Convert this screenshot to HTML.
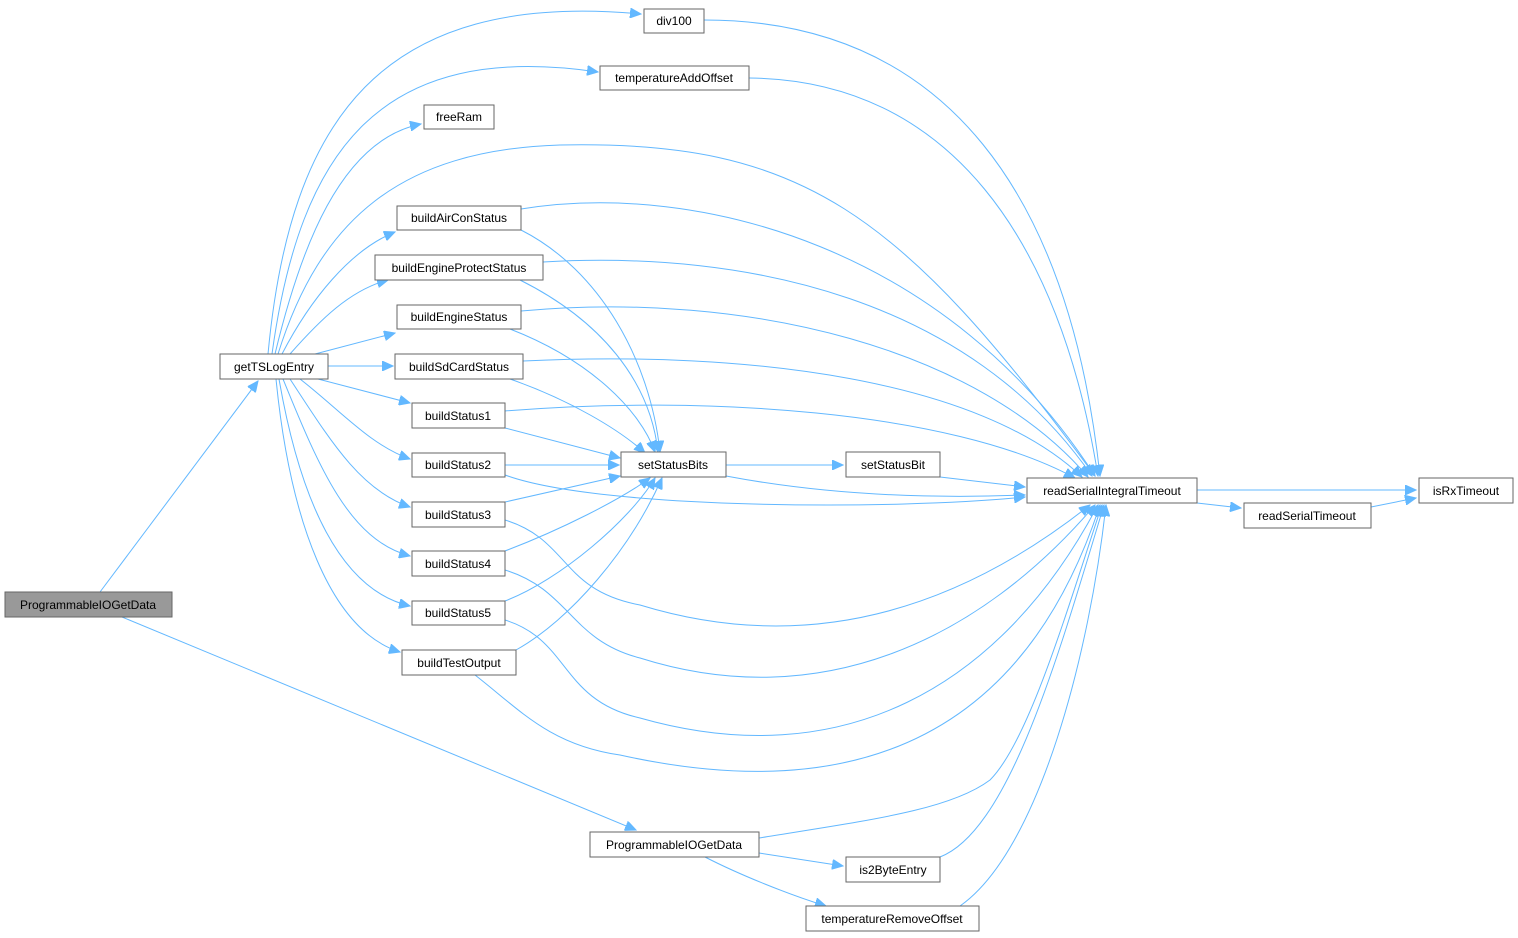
<!DOCTYPE html>
<html><head><meta charset="utf-8"><style>
body{margin:0;background:#fff;}
svg{display:block;}
text{font-family:"Liberation Sans",Arial,sans-serif;font-size:12px;fill:#000;text-anchor:middle;}
.n{fill:#fff;stroke:#666;stroke-width:1;}
.e{fill:none;stroke:#63b8ff;stroke-width:1;marker-end:url(#a);}
</style></head><body>
<svg width="1518" height="938" viewBox="0 0 1518 938">
<defs><marker id="a" markerUnits="userSpaceOnUse" markerWidth="12" markerHeight="10" refX="11" refY="5" orient="auto"><path d="M0,0 L11,5 L0,10 Z" fill="#63b8ff" stroke="#63b8ff"/></marker></defs>
<g>
<path class="e" d="M100,592 L258,381"/>
<path class="e" d="M122,617 L636,830"/>
<path class="e" d="M268,354 C290,120 380,-10 641,14"/>
<path class="e" d="M272,354 C300,150 380,40 598,72"/>
<path class="e" d="M275,354 C300,250 340,140 421,124"/>
<path class="e" d="M278,354 C320,220 400,150 560,145 C800,140 900,210 1095,476"/>
<path class="e" d="M282,354 C310,300 350,250 395,232"/>
<path class="e" d="M290,354 C320,320 350,290 388,280"/>
<path class="e" d="M315,354 L395,333"/>
<path class="e" d="M328,366 L393,366"/>
<path class="e" d="M318,379 L410,403"/>
<path class="e" d="M300,379 C340,410 370,445 410,459"/>
<path class="e" d="M290,379 C330,440 360,490 410,507"/>
<path class="e" d="M283,379 C320,470 350,540 410,556"/>
<path class="e" d="M279,379 C300,500 340,590 410,606"/>
<path class="e" d="M276,379 C290,520 330,630 400,652"/>
<path class="e" d="M521,230 C600,270 650,360 660,452"/>
<path class="e" d="M520,280 C600,320 650,380 658,452"/>
<path class="e" d="M510,329 C590,360 640,410 655,452"/>
<path class="e" d="M510,379 C570,400 620,430 645,453"/>
<path class="e" d="M505,428 L620,458"/>
<path class="e" d="M505,465 L619,465"/>
<path class="e" d="M505,502 L620,476"/>
<path class="e" d="M505,551 C560,530 620,500 650,478"/>
<path class="e" d="M505,601 C560,580 630,520 655,478"/>
<path class="e" d="M516,650 C570,620 630,550 662,478"/>
<path class="e" d="M704,20 C950,20 1070,200 1100,476"/>
<path class="e" d="M749,78 C950,80 1060,240 1098,476"/>
<path class="e" d="M521,209 C700,180 950,250 1095,476"/>
<path class="e" d="M543,262 C750,250 970,300 1092,476"/>
<path class="e" d="M521,311 C750,290 980,350 1088,477"/>
<path class="e" d="M523,361 C750,350 980,380 1082,477"/>
<path class="e" d="M505,411 C700,395 950,410 1075,478"/>
<path class="e" d="M505,475 C600,510 900,510 1025,497"/>
<path class="e" d="M940,477 L1025,487"/>
<path class="e" d="M726,476 C800,490 900,500 1025,495"/>
<path class="e" d="M505,520 C570,540 560,590 640,605 C820,660 970,600 1090,505"/>
<path class="e" d="M505,570 C570,590 570,640 640,658 C820,715 980,640 1095,505"/>
<path class="e" d="M505,620 C570,640 560,700 640,718 C840,775 1000,690 1098,505"/>
<path class="e" d="M475,675 C520,710 550,745 620,755 C800,795 1010,780 1100,505"/>
<path class="e" d="M759,838 C870,820 950,810 990,780 C1030,740 1070,600 1102,505"/>
<path class="e" d="M940,857 C1010,830 1060,650 1104,505"/>
<path class="e" d="M960,906 C1040,850 1090,650 1106,505"/>
<path class="e" d="M726,465 L843,465"/>
<path class="e" d="M1197,490 L1416,490"/>
<path class="e" d="M1197,503 L1241,508"/>
<path class="e" d="M1371,507 L1416,498"/>
<path class="e" d="M759,853 L843,866"/>
<path class="e" d="M705,857 C740,875 790,895 826,906"/>
</g>
<rect x="5" y="592" width="167" height="25" fill="#999" stroke="#666"/><text x="88" y="609">ProgrammableIOGetData</text>
<rect class="n" x="220" y="354" width="108" height="25"/><text x="274" y="371">getTSLogEntry</text>
<rect class="n" x="644" y="9" width="60" height="24"/><text x="674" y="25">div100</text>
<rect class="n" x="600" y="66" width="149" height="24"/><text x="674" y="82">temperatureAddOffset</text>
<rect class="n" x="424" y="105" width="70" height="24"/><text x="459" y="121">freeRam</text>
<rect class="n" x="397" y="206" width="124" height="24"/><text x="459" y="222">buildAirConStatus</text>
<rect class="n" x="375" y="255" width="168" height="25"/><text x="459" y="272">buildEngineProtectStatus</text>
<rect class="n" x="397" y="305" width="124" height="24"/><text x="459" y="321">buildEngineStatus</text>
<rect class="n" x="395" y="354" width="128" height="25"/><text x="459" y="371">buildSdCardStatus</text>
<rect class="n" x="412" y="403" width="93" height="25"/><text x="458" y="420">buildStatus1</text>
<rect class="n" x="412" y="453" width="93" height="24"/><text x="458" y="469">buildStatus2</text>
<rect class="n" x="412" y="502" width="93" height="25"/><text x="458" y="519">buildStatus3</text>
<rect class="n" x="412" y="551" width="93" height="25"/><text x="458" y="568">buildStatus4</text>
<rect class="n" x="412" y="601" width="93" height="24"/><text x="458" y="617">buildStatus5</text>
<rect class="n" x="402" y="650" width="114" height="25"/><text x="459" y="667">buildTestOutput</text>
<rect class="n" x="621" y="452" width="105" height="25"/><text x="673" y="469">setStatusBits</text>
<rect class="n" x="846" y="452" width="94" height="25"/><text x="893" y="469">setStatusBit</text>
<rect class="n" x="1027" y="478" width="170" height="25"/><text x="1112" y="495">readSerialIntegralTimeout</text>
<rect class="n" x="1244" y="503" width="127" height="25"/><text x="1307" y="520">readSerialTimeout</text>
<rect class="n" x="1419" y="478" width="94" height="25"/><text x="1466" y="495">isRxTimeout</text>
<rect class="n" x="590" y="832" width="169" height="25"/><text x="674" y="849">ProgrammableIOGetData</text>
<rect class="n" x="846" y="857" width="94" height="25"/><text x="893" y="874">is2ByteEntry</text>
<rect class="n" x="806" y="906" width="173" height="25"/><text x="892" y="923">temperatureRemoveOffset</text>
</svg>
</body></html>
